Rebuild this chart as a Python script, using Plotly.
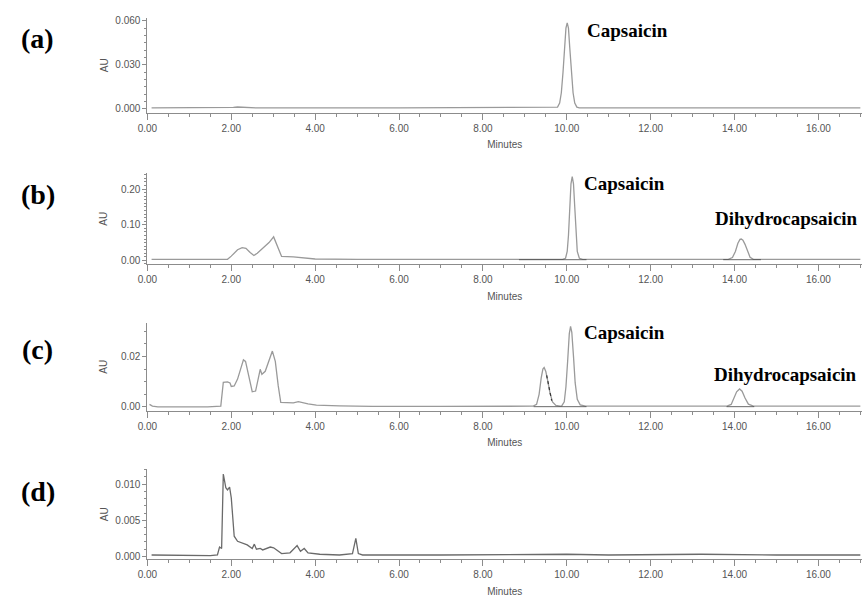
import plotly.graph_objects as go

# ---------------- data ----------------
# (a) standard
t_a = [0.10, 1.80, 2.05, 2.15, 2.30, 2.60, 6.00, 9.70, 9.78, 9.83, 9.87, 9.91, 9.95, 9.98, 10.01,
       10.04, 10.07, 10.11, 10.15, 10.19, 10.24, 10.30, 13.00, 17.00]
au_a = [0.0007, 0.0007, 0.0010, 0.0013, 0.0010, 0.0007, 0.0007, 0.0007, 0.0012, 0.0040, 0.0110, 0.0250,
        0.0420, 0.0550, 0.0586, 0.0550, 0.0420, 0.0250, 0.0110, 0.0040, 0.0012, 0.0007, 0.0007, 0.0007]

# (b)
t_b = [0.10, 1.50, 1.91, 2.00, 2.15, 2.26, 2.35, 2.45, 2.54, 2.62, 2.77, 2.90, 3.01, 3.10, 3.20,
       3.48, 3.65, 3.83, 4.00, 5.00, 5.68, 6.00, 8.00, 9.90, 9.97, 10.01, 10.04, 10.07, 10.10, 10.13,
       10.16, 10.19, 10.22, 10.25, 10.30, 10.38, 12.00, 13.85, 13.95, 14.02, 14.08, 14.13, 14.16,
       14.20, 14.25, 14.31, 14.37, 14.45, 15.50, 17.00]
au_b = [0.003, 0.003, 0.003, 0.012, 0.030, 0.036, 0.034, 0.022, 0.014, 0.020, 0.037, 0.050, 0.066,
        0.040, 0.011, 0.010, 0.008, 0.006, 0.004, 0.003, 0.004, 0.003, 0.003, 0.003, 0.006, 0.025,
        0.070, 0.150, 0.215, 0.235, 0.215, 0.150, 0.070, 0.025, 0.006, 0.003, 0.003, 0.003, 0.008,
        0.025, 0.048, 0.059, 0.060, 0.057, 0.045, 0.024, 0.009, 0.003, 0.003, 0.003]

# (c)
t_c = [0.05, 0.12, 0.25, 1.44, 1.75, 1.81, 1.91, 1.97, 2.00, 2.07, 2.15, 2.29, 2.34, 2.50, 2.58,
       2.69, 2.73, 2.81, 2.98, 3.05, 3.12, 3.18, 3.48, 3.60, 3.83, 4.03, 4.58, 5.36, 7.00, 9.20,
       9.28, 9.34, 9.39, 9.43, 9.46, 9.50, 9.55, 9.60, 9.66, 9.74, 9.84, 9.88, 9.94, 9.98, 10.02,
       10.06, 10.09, 10.12, 10.16, 10.20, 10.25, 10.32, 10.45, 12.00, 13.82, 13.92, 13.99, 14.05,
       14.12, 14.18, 14.25, 14.33, 14.45, 15.50, 17.00]
au_c = [0.0010, 0.0003, 0.0000, 0.0000, 0.0003, 0.0097, 0.0099, 0.0095, 0.0081, 0.0083, 0.0110,
        0.0186, 0.0180, 0.0060, 0.0063, 0.0149, 0.0129, 0.0141, 0.0221, 0.0180, 0.0083, 0.0018,
        0.0016, 0.0021, 0.0012, 0.0007, 0.0004, 0.0002, 0.0002, 0.0003, 0.0010, 0.0050, 0.0115,
        0.0150, 0.0156, 0.0140, 0.0100, 0.0055, 0.0020, 0.0006, 0.0003, 0.0004, 0.0020, 0.0080,
        0.0180, 0.0290, 0.0319, 0.0295, 0.0200, 0.0095, 0.0030, 0.0008, 0.0003, 0.0003, 0.0003,
        0.0010, 0.0035, 0.0060, 0.0071, 0.0062, 0.0035, 0.0011, 0.0003, 0.0003, 0.0003]

# (d)
t_d = [0.10, 1.20, 1.50, 1.67, 1.72, 1.77, 1.81, 1.87, 1.91, 1.96, 2.00, 2.07, 2.15, 2.38, 2.50,
       2.55, 2.60, 2.69, 2.75, 2.93, 3.01, 3.20, 3.40, 3.57, 3.65, 3.74, 3.83, 4.11, 4.58, 4.89,
       4.97, 5.03, 5.13, 7.00, 10.00, 11.00, 13.20, 15.00, 17.00]
au_d = [0.0002, 0.0001, 0.0001, 0.0002, 0.0013, 0.0011, 0.0114, 0.0095, 0.0092, 0.0096, 0.0081,
        0.0028, 0.0021, 0.0016, 0.0011, 0.0017, 0.0010, 0.0011, 0.0009, 0.0013, 0.0012, 0.0004,
        0.0005, 0.0015, 0.0007, 0.0011, 0.0005, 0.0003, 0.0002, 0.0004, 0.0025, 0.0004, 0.0002,
        0.0002, 0.0003, 0.0002, 0.0003, 0.0002, 0.0002]

# integration baselines (dark marks)
base_b_t = [[8.86, 10.47], [13.73, 14.63]]
base_b_au = [[0.002, 0.002], [0.002, 0.002]]
base_c_t = [[9.21, 9.84], [9.84, 10.47], [13.81, 14.47]]
base_c_au = [[0.0001, 0.0001], [0.0001, 0.0001], [0.0001, 0.0001]]
tail_c_t = [9.52, 9.56, 9.60, 9.64]
tail_c_au = [0.0125, 0.0090, 0.0055, 0.0025]

panel_labels = ["(a)", "(b)", "(c)", "(d)"]
y_ticks = [[0.0, 0.03, 0.06], [0.0, 0.10, 0.20], [0.0, 0.02], [0.0, 0.005, 0.010]]
y_fmt = [".3f", ".2f", ".2f", ".3f"]
y_minor = [0.005, 0.01, 0.005, 0.001]
y_ranges = [[-0.0027, 0.0620], [-0.0111, 0.2444], [-0.00157, 0.0333], [-0.00041, 0.01205]]
x_ticks = [0, 2, 4, 6, 8, 10, 12, 14, 16]

# ---------------- figure ----------------
W, H = 865, 602
# pixel positions (top, bottom) of each panel's plot area
pix = [(15, 111), (172, 264), (323, 412), (471, 562)]
x_dom = [139 / W, 862 / W]

fig = go.Figure()
line_col = "#9a9a9a"
axis_col = "#8c8c8c"
sans = "Liberation Sans, Arial, sans-serif"
serif = "Liberation Serif, Times New Roman, serif"
tick_font = dict(family=sans, size=10, color="#555555")

series = [(t_a, au_a), (t_b, au_b), (t_c, au_c), (t_d, au_d)]
for i, (t, au) in enumerate(series):
    xa = "x" if i == 0 else f"x{i+1}"
    ya = "y" if i == 0 else f"y{i+1}"
    fig.add_trace(go.Scatter(x=t, y=au, mode="lines", xaxis=xa, yaxis=ya,
                             line=dict(color="#6a6a6a" if i == 3 else line_col, width=1.3),
                             showlegend=False, hoverinfo="skip"))

for tt, aa in zip(base_b_t, base_b_au):
    fig.add_trace(go.Scatter(x=tt, y=aa, mode="lines", xaxis="x2", yaxis="y2",
                             line=dict(color="#444444", width=0.8), showlegend=False))
for tt, aa in zip(base_c_t, base_c_au):
    fig.add_trace(go.Scatter(x=tt, y=aa, mode="lines", xaxis="x3", yaxis="y3",
                             line=dict(color="#444444", width=0.8), showlegend=False))
fig.add_trace(go.Scatter(x=tail_c_t, y=tail_c_au, mode="lines", xaxis="x3", yaxis="y3",
                         line=dict(color="#333333", width=1.2, dash="dot"), showlegend=False))

layout = dict(width=W, height=H, margin=dict(l=0, r=0, t=0, b=0),
              paper_bgcolor="white", plot_bgcolor="white")

annotations = []
for i, (top, bot) in enumerate(pix):
    n = "" if i == 0 else str(i + 1)
    dom = [1 - bot / H, 1 - top / H]
    layout["xaxis" + n] = dict(
        domain=x_dom, anchor="y" + n, range=[0, 17.04], tickvals=x_ticks,
        tickformat=".2f", ticks="outside", ticklen=6, tickcolor=axis_col, tickwidth=1,
        showline=True, linecolor=axis_col, linewidth=1, showgrid=False, zeroline=False,
        tickfont=tick_font,
        minor=dict(dtick=0.5, tick0=0, ticks="outside", ticklen=3, tickcolor=axis_col, showgrid=False),
        title=dict(text="Minutes", font=dict(family=sans, size=10, color="#555555"), standoff=8),
    )
    layout["yaxis" + n] = dict(
        domain=dom, anchor="x" + n, range=y_ranges[i], tickvals=y_ticks[i],
        tickformat=y_fmt[i], ticks="outside", ticklen=4, tickcolor=axis_col,
        showline=True, linecolor=axis_col, linewidth=1, showgrid=False, zeroline=False,
        tickfont=tick_font,
        minor=dict(dtick=y_minor[i], tick0=0, ticks="outside", ticklen=2, tickcolor=axis_col,
                   showgrid=False),
    )
    # "AU" axis label
    annotations.append(dict(text="AU", xref="paper", yref="paper", x=95 / W,
                            y=1 - ((top + bot) / 2) / H, showarrow=False, textangle=-90,
                            font=dict(family=sans, size=10, color="#555555"),
                            xanchor="center", yanchor="middle"))

label_y = [36, 193, 350, 493]
for i, lab in enumerate(panel_labels):
    annotations.append(dict(text=f"<b>{lab}</b>", xref="paper", yref="paper", x=28 / W,
                            y=1 - label_y[i] / H, showarrow=False,
                            font=dict(family=serif, size=28, color="black"),
                            xanchor="center", yanchor="middle"))

peak_labels = [("Capsaicin", 582, 28), ("Capsaicin", 579, 182), ("Dihydrocapsaicin", 711, 218),
               ("Capsaicin", 579, 333), ("Dihydrocapsaicin", 710, 375)]
for txt, px, py in peak_labels:
    annotations.append(dict(text=f"<b>{txt}</b>", xref="paper", yref="paper", x=px / W,
                            y=1 - py / H, showarrow=False,
                            font=dict(family=serif, size=19, color="black"),
                            xanchor="left", yanchor="middle"))

layout["annotations"] = annotations
fig.update_layout(**layout)
fig.write_html("out.html", config={"displayModeBar": False, "staticPlot": True},
               post_script="document.body.style.margin='0px';document.body.style.overflow='hidden';")
